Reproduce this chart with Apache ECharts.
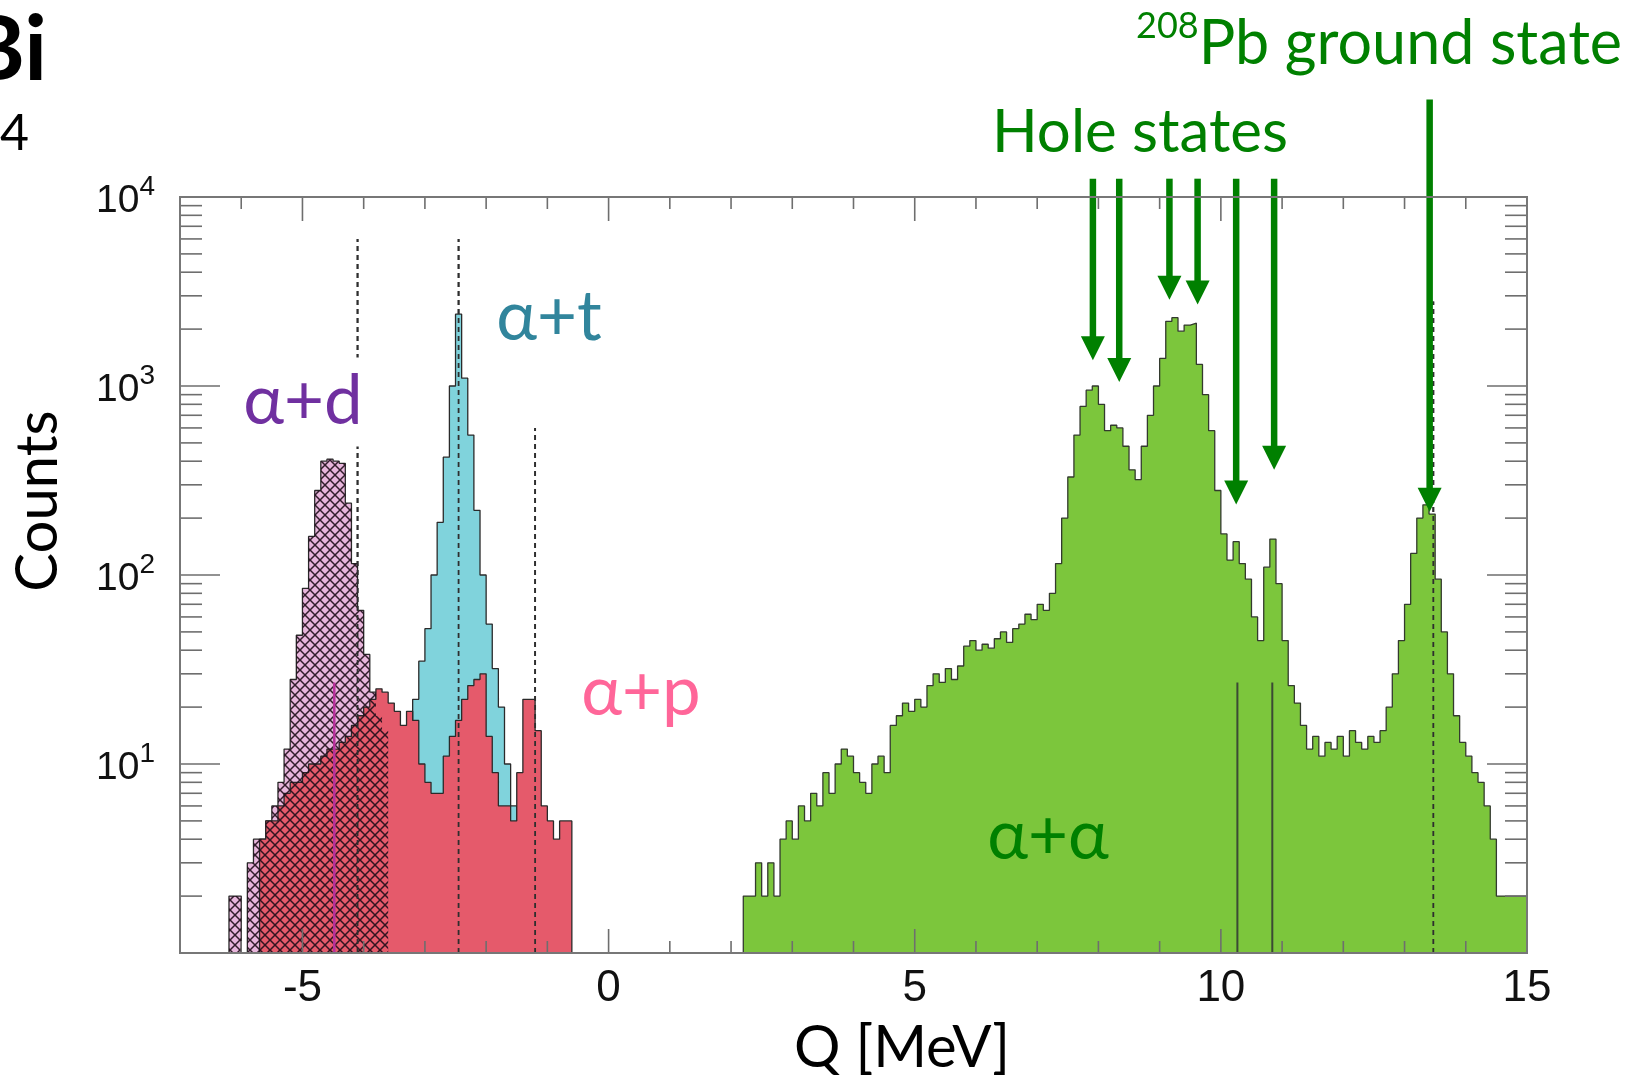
<!DOCTYPE html>
<html>
<head>
<meta charset="utf-8">
<script src="https://cdn.jsdelivr.net/npm/echarts@6/dist/echarts.min.js"></script>
<style>
  html, body { margin: 0; padding: 0; background: #ffffff; }
  #chart { width: 1645px; height: 1083px; }
</style>
</head>
<body>
<div id="chart"></div>
<script>
// Histogram bin width in MeV (all spectra share it)
const BIN = 0.1;

// alpha + deuteron coincidence spectrum
const adStart = -6.3;
const adCounts = [1, 2, 2, 1, 3, 4, 4, 5, 6, 8, 12, 28, 48, 85, 160, 280, 400, 410, 400, 390,
                  240, 115, 65, 38, 24, 18, 15];

// alpha + triton coincidence spectrum
const atStart = -3.3;
const atCounts = [8, 22, 35, 52, 100, 190, 420, 1000, 2400, 1100, 550, 220, 100, 55, 32, 20, 10, 6];

// alpha + proton coincidence spectrum
const apStart = -5.7;
const apCounts = [4, 5, 5, 6, 7, 8, 8, 9, 10, 10, 11, 12, 12, 13, 14, 16, 18, 20, 22, 25,
                  24, 21, 19, 16, 19, 17, 10, 8, 7, 7, 11, 14, 17, 22, 26, 28, 30, 14, 9, 6,
                  6, 5, 9, 22, 22, 15, 6, 5, 4, 5, 5];

// alpha + alpha coincidence spectrum
const aaStart = 2.2;
const aaCounts = [2, 2, 3, 2, 3, 2, 4, 5, 4, 6,
                  5, 7, 6, 9, 7, 10, 12, 11, 9, 8,
                  7, 10, 11, 9, 16, 18, 21, 19, 22, 20,
                  26, 30, 27, 32, 28, 33, 42, 45, 40, 43,
                  41, 46, 50, 44, 52, 55, 62, 58, 70, 65,
                  80, 115, 200, 330, 550, 780, 950, 1000, 800, 580,
                  620, 600, 480, 360, 320, 480, 700, 1000, 1400, 2200,
                  2300, 1950, 2100, 2150, 1300, 900, 580, 280, 165, 120,
                  150, 115, 95, 60, 45, 110, 155, 90, 45, 26,
                  21, 16, 12, 14, 11, 13, 12, 14, 11, 15,
                  13, 12, 14, 13, 15, 20, 30, 45, 70, 130,
                  200, 235, 210, 95, 50, 30, 18, 13, 11, 9,
                  8, 6, 4, 2, 2, 2, 2, 2];

// Expected Q-values (dashed): [Q, top of line in counts]
const dashedMarks = [[-4.1, 6000], [-2.45, 6000], [-1.2, 600], [13.47, 2800]];
// Thin solid markers: [Q, top in counts]
const magentaMarks = [[-4.48, 27]];
const darkMarks = [[10.27, 27], [10.84, 27]];

// Hole-state arrows: [Q, arrow start in counts, arrow tip in counts]
const holeArrows = [[7.91, 12500, 1370], [8.34, 12500, 1050], [9.16, 12500, 2860],
                    [9.62, 12500, 2700], [10.25, 12500, 236], [10.87, 12500, 360]];
// Ground-state arrow
const groundArrow = [[13.41, 32800, 216]];

// Axis ticks and labels
const xRange = [-7, 15];
const xMajorTicks = [-5, 0, 5, 10, 15];
const yDecades = [1, 10, 100, 1000, 10000];
const yMinorSteps = [2, 3, 4, 5, 6, 7, 8, 9];

const TICK_FONT = '"Liberation Sans Narrow", "Liberation Sans", Arial, sans-serif';
const TEXT_FONT = 'Lato, "Open Sans", "Noto Sans", sans-serif';

// Step outline for a histogram: bins [start + i*BIN, start + (i+1)*BIN)
function stepData(start, counts) {
  const pts = [[start, 1]];
  counts.forEach((c, i) => pts.push([+(start + i * BIN).toFixed(4), c]));
  const end = +(start + counts.length * BIN).toFixed(4);
  pts.push([end, counts[counts.length - 1]]);
  pts.push([end, 1]);
  return pts;
}

// Cross-hatch tile for the alpha+d spectrum
const tile = document.createElement('canvas');
tile.width = 10; tile.height = 10;
const tg = tile.getContext('2d');
tg.strokeStyle = 'rgba(30,12,24,0.9)';
tg.lineWidth = 1.5;
tg.beginPath();
tg.moveTo(-1, -1); tg.lineTo(11, 11);
tg.moveTo(11, -1); tg.lineTo(-1, 11);
tg.stroke();

// Tick items: [x, y, kind] ; kind 0/1 = x minor/major, 2/3 = y minor/major, 4 = frame
const tickItems = [];
for (let q = xRange[0]; q <= xRange[1]; q++) {
  tickItems.push([q, 1, xMajorTicks.indexOf(q) >= 0 ? 1 : 0]);
}
yDecades.forEach((d, i) => {
  tickItems.push([xRange[0], d, 3]);
  if (i < yDecades.length - 1) yMinorSteps.forEach(m => tickItems.push([xRange[0], d * m, 2]));
});
tickItems.push([xRange[0], 1, 4]);

function histSeries(name, start, counts, fill, z, lineColor) {
  return {
    name, type: 'line', step: 'end', data: stepData(start, counts),
    symbol: 'none', showSymbol: false, z,
    lineStyle: { color: lineColor || '#2a2a2a', width: 1.3 },
    areaStyle: { color: fill, opacity: 1, origin: 'start' },
    emphasis: { disabled: true }
  };
}

function vLineSeries(data, stroke, width, dash, z) {
  return {
    type: 'custom', coordinateSystem: 'cartesian2d', data, z, silent: true,
    encode: { x: 0, y: 1 },
    renderItem(params, api) {
      const q = api.value(0);
      const top = api.coord([q, api.value(1)]);
      const bot = api.coord([q, 1]);
      return {
        type: 'line',
        shape: { x1: bot[0], y1: bot[1], x2: top[0], y2: top[1] },
        style: { stroke, lineWidth: width, lineDash: dash }
      };
    }
  };
}

function arrowSeries(data, z) {
  return {
    type: 'custom', coordinateSystem: 'cartesian2d', data, z, silent: true, clip: false,
    encode: { x: 0, y: 2 },
    renderItem(params, api) {
      const q = api.value(0);
      const top = api.coord([q, api.value(1)]);
      const tip = api.coord([q, api.value(2)]);
      const head = 24, half = 12;
      return {
        type: 'group',
        children: [
          { type: 'line', shape: { x1: top[0], y1: top[1], x2: tip[0], y2: tip[1] - head + 2 },
            style: { stroke: '#008000', lineWidth: 6.5 } },
          { type: 'polygon', shape: { points: [[tip[0] - half, tip[1] - head], [tip[0] + half, tip[1] - head], [tip[0], tip[1]]] },
            style: { fill: '#008000' } }
        ]
      };
    }
  };
}

const tickSeries = {
  type: 'custom', coordinateSystem: 'cartesian2d', data: tickItems, z: 30, silent: true,
  encode: { x: 0, y: 1 },
  renderItem(params, api) {
    const cs = params.coordSys;
    const kind = api.value(2);
    const p = api.coord([api.value(0), api.value(1)]);
    const st = { stroke: '#6e6e6e', lineWidth: 1.6 };
    const bottom = cs.y + cs.height, right = cs.x + cs.width;
    if (kind === 4) {
      return { type: 'rect', shape: { x: cs.x, y: cs.y, width: cs.width, height: cs.height },
               style: { fill: 'none', stroke: '#777777', lineWidth: 2 } };
    }
    if (kind < 2) {
      const len = kind === 1 ? 24 : 12;
      return { type: 'group', children: [
        { type: 'line', shape: { x1: p[0], y1: bottom, x2: p[0], y2: bottom - len }, style: st },
        { type: 'line', shape: { x1: p[0], y1: cs.y, x2: p[0], y2: cs.y + len }, style: st }
      ] };
    }
    const len = kind === 3 ? 40 : 22;
    return { type: 'group', children: [
      { type: 'line', shape: { x1: cs.x, y1: p[1], x2: cs.x + len, y2: p[1] }, style: st },
      { type: 'line', shape: { x1: right, y1: p[1], x2: right - len, y2: p[1] }, style: st }
    ] };
  }
};

const chart = echarts.init(document.getElementById('chart'), null, { renderer: 'canvas' });

chart.setOption({
  animation: false,
  backgroundColor: '#ffffff',
  grid: { left: 180, top: 197, width: 1347, height: 756, containLabel: false },
  xAxis: {
    type: 'value', min: xRange[0], max: xRange[1], interval: 1,
    axisLine: { show: false }, axisTick: { show: false }, splitLine: { show: false },
    axisLabel: {
      margin: 14, color: '#111', fontSize: 44, fontFamily: TICK_FONT,
      formatter: v => (xMajorTicks.indexOf(v) >= 0 ? String(v) : '')
    }
  },
  yAxis: {
    type: 'log', logBase: 10, min: yDecades[0], max: yDecades[yDecades.length - 1],
    axisLine: { show: false }, axisTick: { show: false }, splitLine: { show: false },
    minorTick: { show: false },
    axisLabel: {
      margin: 25,
      formatter: v => {
        const e = Math.round(Math.log10(v));
        return e === 0 ? '' : '{b|10}{s|' + e + '}';
      },
      rich: {
        b: { fontSize: 39, fontFamily: TICK_FONT, color: '#111', lineHeight: 48, verticalAlign: 'bottom' },
        s: { fontSize: 28, fontFamily: TICK_FONT, color: '#111', lineHeight: 48, verticalAlign: 'top' }
      }
    }
  },
  series: [
    vLineSeries(dashedMarks, '#333333', 1.8, [5, 4], 1),
    histSeries('α+d', adStart, adCounts, '#e8b6dc', 2),
    histSeries('α+t', atStart, atCounts, '#80d3dc', 3),
    histSeries('α+p', apStart, apCounts, '#e55a6b', 4),
    {
      name: 'α+d hatch', type: 'line', step: 'end', data: stepData(adStart, adCounts),
      symbol: 'none', z: 5, lineStyle: { width: 0 },
      areaStyle: { color: { image: tile, repeat: 'repeat' }, opacity: 1, origin: 'start' }
    },
    histSeries('α+α', aaStart, aaCounts, '#7cc63c', 6, '#333a2e'),
    vLineSeries(dashedMarks, '#2e2e2e', 1.8, [5, 4], 8),
    vLineSeries(magentaMarks, '#b8309c', 2.5, null, 9),
    vLineSeries(darkMarks, '#3b4a34', 2, null, 9),
    arrowSeries(holeArrows, 20),
    arrowSeries(groundArrow, 20),
    tickSeries
  ],
  graphic: [
    { type: 'text', z: 50, style: { text: 'Bi', x: 47, y: 51, textAlign: 'right', textVerticalAlign: 'middle',
      font: 'bold 90px ' + TEXT_FONT, fill: '#000' } },
    { type: 'text', z: 50, style: { text: '4', x: 0, y: 134, textAlign: 'left', textVerticalAlign: 'middle',
      font: '50px ' + TEXT_FONT, fill: '#000' } },
    { type: 'text', z: 50, style: {
      text: '{s|208}{m|Pb ground state}', x: 1136, y: 44, textAlign: 'left', textVerticalAlign: 'middle',
      rich: {
        s: { fontSize: 36, fontFamily: TEXT_FONT, fill: '#008000', color: '#008000', lineHeight: 72, verticalAlign: 'top' },
        m: { fontSize: 61, fontFamily: TEXT_FONT, fill: '#008000', color: '#008000', lineHeight: 72, verticalAlign: 'middle' }
      } } },
    { type: 'text', z: 50, style: { text: 'Hole states', x: 1140, y: 133, textAlign: 'center', textVerticalAlign: 'middle',
      font: '60px ' + TEXT_FONT, fill: '#008000' } },
    { type: 'text', z: 50, style: { text: 'α+d', x: 303, y: 402, textAlign: 'center', textVerticalAlign: 'middle',
      font: '69px ' + TEXT_FONT, fill: '#7030a0', backgroundColor: '#ffffff', padding: [10, 2, 10, 2] } },
    { type: 'text', z: 50, style: { text: 'α+t', x: 549, y: 318, textAlign: 'center', textVerticalAlign: 'middle',
      font: '69px ' + TEXT_FONT, fill: '#31859c' } },
    { type: 'text', z: 50, style: { text: 'α+p', x: 641, y: 693, textAlign: 'center', textVerticalAlign: 'middle',
      font: '69px ' + TEXT_FONT, fill: '#ff6699' } },
    { type: 'text', z: 50, style: { text: 'α+α', x: 1048, y: 837, textAlign: 'center', textVerticalAlign: 'middle',
      font: '69px ' + TEXT_FONT, fill: '#008000' } },
    { type: 'text', z: 50, rotation: Math.PI / 2, x: 38, y: 501, style: { text: 'Counts', x: 0, y: 0,
      textAlign: 'center', textVerticalAlign: 'middle', font: '58px ' + TEXT_FONT, fill: '#000' } },
    { type: 'text', z: 50, style: { text: 'Q [MeV]', x: 902, y: 1048, textAlign: 'center', textVerticalAlign: 'middle',
      font: '58px ' + TEXT_FONT, fill: '#000' } }
  ]
});
</script>
</body>
</html>
